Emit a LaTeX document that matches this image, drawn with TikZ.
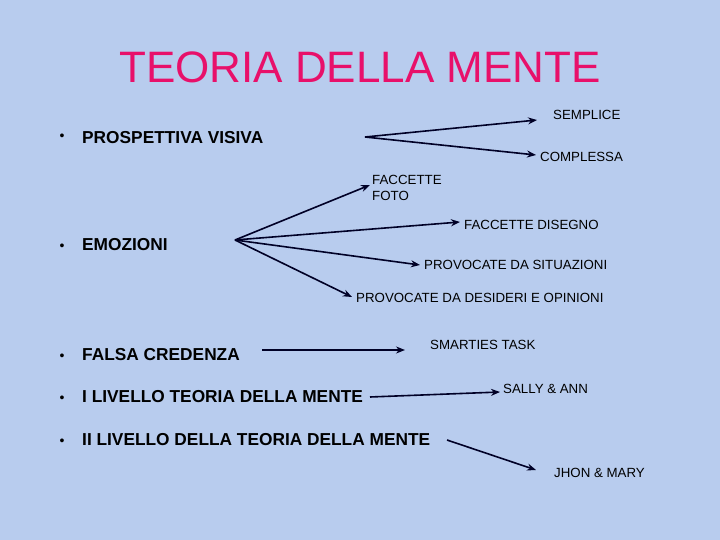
\documentclass[tikz,border=0pt]{standalone}
\usepackage{fontspec}
\setmainfont{Liberation Sans}
\usetikzlibrary{arrows.meta}
\definecolor{bg}{HTML}{B8CCEE}
\definecolor{tit}{HTML}{E8106A}
\begin{document}
\begin{tikzpicture}[x=1pt,y=-1pt,
  lab/.style={anchor=west,inner sep=0pt,font=\fontsize{13.3}{15}\selectfont,align=left},
  item/.style={anchor=west,inner sep=0pt,font=\fontsize{17.3}{20}\selectfont\bfseries},
  bul/.style={anchor=center,inner sep=0pt,font=\fontsize{14}{16}\selectfont},
  arr/.style={-{Stealth[length=9pt,width=7pt]},line width=1.6pt,draw=black!85!blue}]
\fill[bg] (0,0) rectangle (720,540);
\useasboundingbox (0,0) rectangle (720,540);
\node[font=\fontsize{44}{48}\selectfont,text=tit] (t) at (360,67) {TEORIA DELLA MENTE};
\foreach \y/\n in {137/b1,247/b2,357/b3,399/b4,442/b5} \node[bul] (\n) at (62,\y) {•};
\node[item] (pv) at (82,138) {PROSPETTIVA VISIVA};
\node[item] (em) at (82,245) {EMOZIONI};
\node[item] (fc) at (82,355) {FALSA CREDENZA};
\node[item] (l1) at (82,397) {I LIVELLO TEORIA DELLA MENTE};
\node[item] (l2) at (82,440) {II LIVELLO DELLA TEORIA DELLA MENTE};
\node[lab] (sem) at (553,115) {SEMPLICE};
\node[lab] (com) at (540,157) {COMPLESSA};
\node[lab,font=\fontsize{13.3}{16}\selectfont] (ff) at (372,188) {FACCETTE\\FOTO};
\node[lab] (fd) at (464,225) {FACCETTE DISEGNO};
\node[lab] (ps) at (424,265) {PROVOCATE DA SITUAZIONI};
\node[lab] (pd) at (356,298) {PROVOCATE DA DESIDERI E OPINIONI};
\node[lab] (st) at (430,345) {SMARTIES TASK};
\node[lab] (sa) at (503,389) {SALLY \& ANN};
\node[lab] (jm) at (554,473) {JHON \& MARY};
\coordinate (p0) at (365,137);
\coordinate (e0) at (235,240);
\draw[arr] (p0) -- (537,120) coordinate (s1);
\draw[arr] (p0) -- (536,155) coordinate (s2);
\draw[arr] (e0) -- (370,185) coordinate (s3);
\draw[arr] (e0) -- (460,222) coordinate (s4);
\draw[arr] (e0) -- (420,265) coordinate (s5);
\draw[arr] (e0) -- (352,297) coordinate (s6);
\draw[arr] (262,350) coordinate (f0) -- (405,350) coordinate (s7);
\draw[arr] (370,397) coordinate (f1) -- (500,392) coordinate (s8);
\draw[arr] (447,440) coordinate (f2) -- (536,470) coordinate (s9);
\end{tikzpicture}
\end{document}
